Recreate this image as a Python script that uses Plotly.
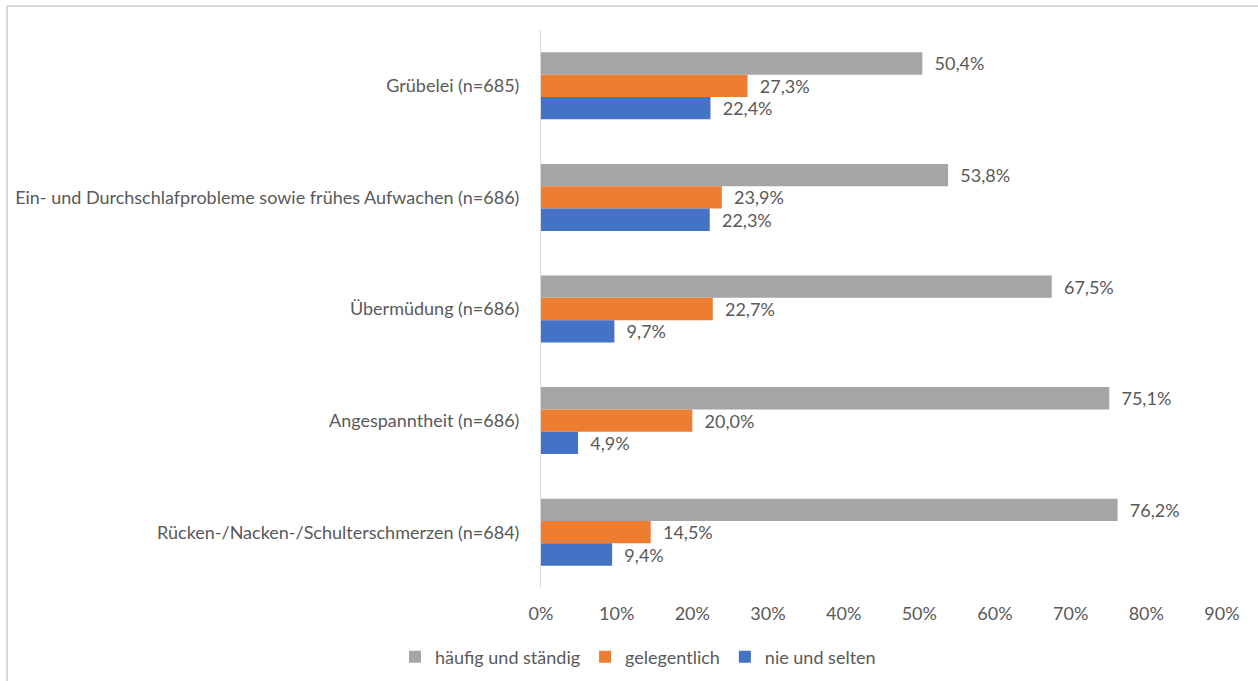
import plotly.graph_objects as go

categories = [
    "Grübelei (n=685)",
    "Ein- und Durchschlafprobleme sowie frühes Aufwachen (n=686)",
    "Übermüdung (n=686)",
    "Angespanntheit (n=686)",
    "Rücken-/Nacken-/Schulterschmerzen (n=684)",
]
haeufig = [50.4, 53.8, 67.5, 75.1, 76.2]
gelegentlich = [27.3, 23.9, 22.7, 20.0, 14.5]
nie = [22.4, 22.3, 9.7, 4.9, 9.4]
tick_vals = [0, 10, 20, 30, 40, 50, 60, 70, 80, 90]
tick_text = ["0%", "10%", "20%", "30%", "40%", "50%", "60%", "70%", "80%", "90%"]

series = [
    ("häufig und ständig", haeufig, "#A5A5A5"),
    ("gelegentlich", gelegentlich, "#ED7D31"),
    ("nie und selten", nie, "#4472C4"),
]

FONT = "Lato"
FS = 18
TXT = "#595959"

fig = go.Figure()
for name, vals, col in series:
    fig.add_trace(go.Bar(
        y=categories, x=vals, name=name, orientation="h",
        marker=dict(color=col, line=dict(width=0)),
        texttemplate="\u00a0\u00a0%{x:.1f}%", textposition="outside",
        textfont=dict(family=FONT, size=FS, color=TXT),
        cliponaxis=False,
    ))

W, H = 1258, 681
ml, mr, mt, mb = 541, 36, 30, 93
pw, ph = W - ml - mr, H - mt - mb

def px_x(p):
    return (p - ml) / pw

def px_y(p):
    return (H - mb - p) / ph

fig.update_layout(
    width=W, height=H,
    margin=dict(l=ml, r=mr, t=mt, b=mb, pad=0, autoexpand=False),
    barmode="group", bargap=0.4, bargroupgap=0,
    separators=", ",
    paper_bgcolor="white", plot_bgcolor="white",
    font=dict(family=FONT, size=FS, color=TXT),
    showlegend=True,
    legend=dict(orientation="h", x=px_x(638), xanchor="center",
                y=px_y(657), yanchor="middle",
                font=dict(family=FONT, size=FS, color=TXT),
                itemwidth=30, traceorder="normal"),
    xaxis=dict(range=[0, 90], tickvals=tick_vals, ticktext=tick_text,
               showgrid=False, zeroline=False, showline=False,
               ticks="", ticklabelstandoff=13, automargin=False,
               tickfont=dict(family=FONT, size=FS, color=TXT)),
    yaxis=dict(autorange="reversed", showgrid=False, zeroline=False,
               showline=True, linecolor="#D9D9D9", linewidth=1,
               ticks="", ticklabelstandoff=17, automargin=False,
               tickfont=dict(family=FONT, size=FS, color=TXT)),
    shapes=[
        dict(type="line", xref="paper", yref="paper",
             x0=px_x(7), x1=px_x(7), y0=px_y(6), y1=px_y(700),
             line=dict(color="#D9D9D9", width=2)),
        dict(type="line", xref="paper", yref="paper",
             x0=px_x(7), x1=px_x(1270), y0=px_y(6), y1=px_y(6),
             line=dict(color="#D9D9D9", width=2)),
    ],
)

fig.write_html("out.html", config={"displayModeBar": False},
               post_script="document.body.style.margin='0';")
